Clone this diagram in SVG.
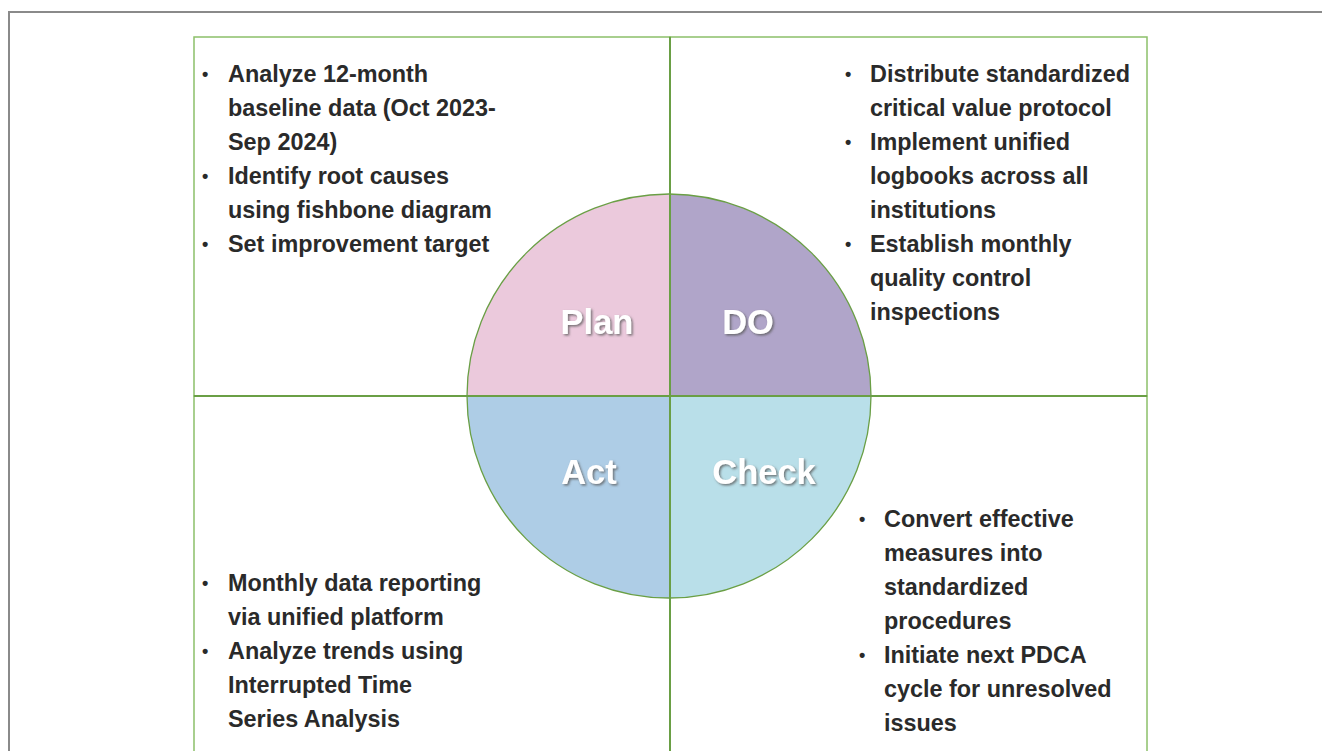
<svg xmlns="http://www.w3.org/2000/svg" width="1322" height="751" viewBox="0 0 1322 751">
  <defs>
    <filter id="shadow" x="-20%" y="-20%" width="140%" height="140%">
      <feDropShadow dx="1.5" dy="1.5" stdDeviation="0.8" flood-color="#5a5a5a" flood-opacity="0.8"/>
    </filter>
  </defs>
  <style>
    .frame { fill: none; stroke: #8a8a8a; stroke-width: 2; }
    .box { fill: none; stroke: #8cc06a; stroke-width: 1.5; }
    .axis { stroke: #6a9f45; stroke-width: 2; }
    .ring { fill: none; stroke: #6a9f45; stroke-width: 1.3; }
    .item { font-family: "Liberation Sans", Arial, sans-serif; font-weight: bold; font-size: 23.4px; fill: #2a2a2a; }
    .dot { font-family: "Liberation Sans", Arial, sans-serif; font-weight: bold; font-size: 18px; fill: #2a2a2a; }
    .phase { font-family: "Liberation Sans", Arial, sans-serif; font-weight: bold; font-size: 34.5px; fill: #ffffff; text-anchor: middle; filter: url(#shadow); }
  </style>

  <rect width="1322" height="751" fill="#ffffff"/>
  <!-- page frame -->
  <path class="frame" d="M9 751 V12 H1322"/>

  <!-- quadrant boxes -->
  <g id="boxes">
    <rect class="box" x="194" y="37" width="476" height="359"/>
    <rect class="box" x="670" y="37" width="477" height="359"/>
    <rect class="box" x="194" y="396" width="476" height="370"/>
    <rect class="box" x="670" y="396" width="477" height="370"/>
  </g>

  <!-- PDCA wheel -->
  <g id="wheel">
    <path d="M669 396 H467 A202 202 0 0 1 669 194 Z" fill="#ebc9dc"/>
    <path d="M669 396 V194 A202 202 0 0 1 871 396 Z" fill="#b0a5c9"/>
    <path d="M669 396 H467 A202 202 0 0 0 669 598 Z" fill="#aecde6"/>
    <path d="M669 396 V598 A202 202 0 0 0 871 396 Z" fill="#b9dfe9"/>
    <circle class="ring" cx="669" cy="396" r="202"/>
  </g>

  <!-- quadrant dividers -->
  <g id="connectors">
    <line class="axis" x1="670" y1="37" x2="670" y2="751"/>
    <line class="axis" x1="194" y1="396" x2="1147" y2="396"/>
  </g>

  <g id="plan">
    <text class="phase" x="597" y="334">Plan</text>
    <text class="dot" x="202" y="80">•</text>
    <text class="item" x="228" y="82">Analyze 12-month</text>
    <text class="item" x="228" y="116">baseline data (Oct 2023-</text>
    <text class="item" x="228" y="150">Sep 2024)</text>
    <text class="dot" x="202" y="182">•</text>
    <text class="item" x="228" y="184">Identify root causes</text>
    <text class="item" x="228" y="218">using fishbone diagram</text>
    <text class="dot" x="202" y="250">•</text>
    <text class="item" x="228" y="252">Set improvement target</text>
  </g>

  <g id="do">
    <text class="phase" x="748" y="334">DO</text>
    <text class="dot" x="845" y="80">•</text>
    <text class="item" x="870" y="82">Distribute standardized</text>
    <text class="item" x="870" y="116">critical value protocol</text>
    <text class="dot" x="845" y="148">•</text>
    <text class="item" x="870" y="150">Implement unified</text>
    <text class="item" x="870" y="184">logbooks across all</text>
    <text class="item" x="870" y="218">institutions</text>
    <text class="dot" x="845" y="250">•</text>
    <text class="item" x="870" y="252">Establish monthly</text>
    <text class="item" x="870" y="286">quality control</text>
    <text class="item" x="870" y="320">inspections</text>
  </g>

  <g id="act">
    <text class="phase" x="589" y="484">Act</text>
    <text class="dot" x="202" y="589">•</text>
    <text class="item" x="228" y="591">Monthly data reporting</text>
    <text class="item" x="228" y="625">via unified platform</text>
    <text class="dot" x="202" y="657">•</text>
    <text class="item" x="228" y="659">Analyze trends using</text>
    <text class="item" x="228" y="693">Interrupted Time</text>
    <text class="item" x="228" y="727">Series Analysis</text>
  </g>

  <g id="check">
    <text class="phase" x="764" y="484">Check</text>
    <text class="dot" x="859" y="525">•</text>
    <text class="item" x="884" y="527">Convert effective</text>
    <text class="item" x="884" y="561">measures into</text>
    <text class="item" x="884" y="595">standardized</text>
    <text class="item" x="884" y="629">procedures</text>
    <text class="dot" x="859" y="661">•</text>
    <text class="item" x="884" y="663">Initiate next PDCA</text>
    <text class="item" x="884" y="697">cycle for unresolved</text>
    <text class="item" x="884" y="731">issues</text>
  </g>
</svg>
